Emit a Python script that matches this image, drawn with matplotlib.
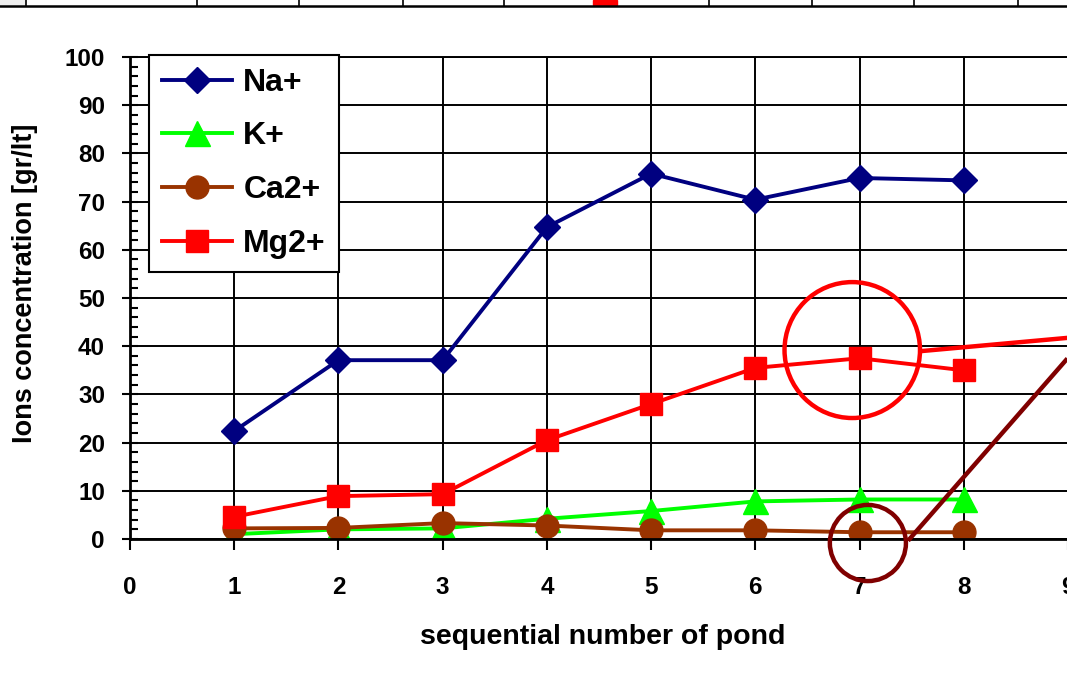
import matplotlib
matplotlib.use("Agg")
import matplotlib.pyplot as plt
from matplotlib.patches import Ellipse
from matplotlib.ticker import MultipleLocator

plt.rcParams['font.family'] = ['Liberation Sans', 'DejaVu Sans']
plt.rcParams['font.weight'] = 'bold'

# data
pond = [1, 2, 3, 4, 5, 6, 7, 8]
na = [22.4, 37.1, 37.1, 64.7, 75.8, 70.4, 74.9, 74.4]
k = [1.0, 2.0, 2.2, 4.2, 5.8, 7.8, 8.2, 8.2]
ca = [2.2, 2.3, 3.3, 2.8, 1.8, 1.8, 1.4, 1.4]
mg = [4.6, 8.9, 9.3, 20.5, 28.0, 35.5, 37.5, 35.0]

xticks = list(range(0, 10))
yticks = list(range(0, 101, 10))

W, H = 1067, 679
fig = plt.figure(figsize=(W / 100, H / 100), dpi=100)
ax = fig.add_axes([130 / W, 140 / H, 938 / W, 482 / H])

ax.plot(pond, na, color='#000080', lw=2.8, marker='D', ms=13, label='Na+')
ax.plot(pond, k, color='#00ff00', lw=2.8, marker='^', ms=18, label='K+')
ax.plot(pond, ca, color='#993300', lw=2.8, marker='o', ms=16.5, label='Ca2+')
ax.plot(pond, mg, color='#ff0000', lw=2.8, marker='s', ms=16, label='Mg2+')

ax.set_xlim(0, 9)
ax.set_ylim(0, 100)
ax.set_xticks(xticks)
ax.set_yticks(yticks)
ax.yaxis.set_minor_locator(MultipleLocator(2))
ax.grid(True, color='black', lw=1.4)
ax.set_axisbelow(True)
for s in ['left', 'bottom']:
    ax.spines[s].set_linewidth(2)
ax.spines['top'].set_linewidth(1.4)
ax.spines['right'].set_visible(False)

ax.tick_params(axis='y', which='major', direction='inout', length=12, width=1.5,
               pad=12, labelsize=17.5)
ax.tick_params(axis='y', which='minor', direction='in', length=6, width=1.5)
ax.tick_params(axis='x', which='major', direction='out', length=8, width=1.5,
               pad=19, labelsize=17.5)
for t in ax.get_xticklabels() + ax.get_yticklabels():
    t.set_fontweight('bold')

leg = ax.legend(loc='upper left', bbox_to_anchor=(0.0203, 1.004), borderaxespad=0,
                fancybox=False, framealpha=1, edgecolor='black', fontsize=23,
                handlelength=2.2, handletextpad=0.35, labelspacing=0.74,
                borderpad=0.4)
leg.get_frame().set_linewidth(1.5)
for t in leg.get_texts():
    t.set_fontweight('bold')

# hand-drawn annotations
ax.add_patch(Ellipse((6.93, 39.2), 1.30, 28.2, fill=False, ec='#ff0000', lw=3.2,
                     clip_on=False, zorder=5))
ax.plot([7.60, 8.98], [39.0, 41.7], color='#ff0000', lw=3.2, clip_on=False, zorder=5)
ax.add_patch(Ellipse((7.08, -0.83), 0.73, 15.8, fill=False, ec='#800000', lw=3.2,
                     clip_on=False, zorder=5))
ax.plot([7.48, 8.98], [0.0, 37.1], color='#800000', lw=3.2, clip_on=False, zorder=5)

fig.text(25 / W, 1 - 283 / H, 'Ions concentration [gr/lt]', rotation=90,
         ha='center', va='center', fontsize=19.5, fontweight='bold')
fig.text(603 / W, 1 - 637 / H, 'sequential number of pond',
         ha='center', va='center', fontsize=20.5, fontweight='bold')

# strip of the table above, cut off by the crop
fig.add_artist(plt.Line2D([0, 1], [1 - 6 / H, 1 - 6 / H], color='black', lw=1.8))
for xp in [26, 197, 299, 403, 504, 709, 812, 914, 1018]:
    fig.add_artist(plt.Line2D([xp / W, xp / W], [1 - 6 / H, 1], color='black', lw=1.2))
fig.add_artist(plt.Rectangle((593 / W, 1 - 5 / H), 24 / W, 5 / H, color='#ff0000'))
fig.add_artist(plt.Rectangle((0, 1 - 6 / H), 25 / W, 6 / H, color='#eeeeee'))
fig.text(150 / W, 1 - 4 / H, '100', ha='center', va='bottom', fontsize=16,
         fontweight='bold')

fig.savefig('out.png', dpi=100)
